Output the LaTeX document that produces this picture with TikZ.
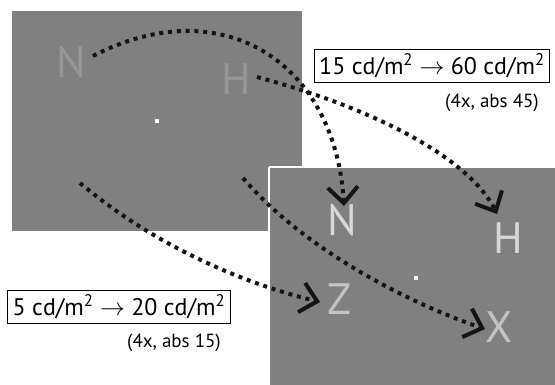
\documentclass[tikz,border=0pt]{standalone}
\usepackage{fontspec}
\setmainfont{PT Sans}
\usetikzlibrary{arrows.meta}
\definecolor{panel}{HTML}{808080}
\definecolor{dimletter}{HTML}{979797}
\definecolor{brightletter}{HTML}{D8D8D8}
\definecolor{midletter}{HTML}{C4C4C4}
\tikzset{
  dotarrow/.style={line width=4pt, color=black!92, dash pattern=on 4pt off 4.8pt,
    -{Straight Barb[length=16pt,width=30pt,line width=4pt]}},
  letter/.style={font=\fontsize{44}{44}\selectfont, inner sep=0pt},
  labelbox/.style={draw, line width=1.1pt, font=\fontsize{24}{26}\selectfont, inner xsep=5pt, inner ysep=4pt},
  note/.style={font=\fontsize{19}{21}\selectfont, inner sep=0pt},
  fix/.style={fill=white, minimum size=4pt, inner sep=0pt}
}
\newcommand{\sq}{\textsuperscript{2}}
\begin{document}
\begin{tikzpicture}[x=1pt,y=-1pt]
\useasboundingbox (0,0) rectangle (555,384);
\fill[white] (0,0) rectangle (555,384);
% first panel
\fill[panel] (12,11) rectangle (302,231);
\node[letter, text=dimletter] (n1) at (71,62) {N};
\node[letter, text=dimletter] (h1) at (236,79) {H};
\node[fix] (f1) at (157,121) {};
% second panel
\fill[panel] (270,168) rectangle (560,390);
\draw[white, line width=2pt] (269,167) -- (560,167);
\draw[white, line width=2pt] (269,167) -- (269,390);
\node[letter, text=brightletter] (n2) at (342,220) {N};
\node[letter, text=brightletter] (h2) at (508,238) {H};
\node[letter, text=midletter] (z2) at (339,299) {Z};
\node[letter, text=midletter] (x2) at (499,327) {X};
\node[fix] (f2) at (416,278) {};
% arrows
\coordinate (s1) at (93,56);
\coordinate (t1) at (344,206);
\coordinate (s2) at (257,77);
\coordinate (t2) at (497,214);
\coordinate (s3) at (80,183);
\coordinate (t3) at (320,302);
\coordinate (s4) at (243,178);
\coordinate (t4) at (485,329);
\draw[dotarrow] (s1) .. controls (220,-10) and (335,60) .. (t1);
\draw[dotarrow] (s2) .. controls (380,110) and (470,160) .. (t2);
\draw[dotarrow] (s3) .. controls (160,250) and (250,285) .. (t3);
\draw[dotarrow] (s4) .. controls (300,245) and (400,300) .. (t4);
% labels
\node[labelbox] (b1) at (432,66) {15 cd/m\sq{} $\rightarrow$ 60 cd/m\sq};
\node[note] (c1) at (492,103) {(4x, abs 45)};
\node[labelbox] (b2) at (119,307) {5 cd/m\sq{} $\rightarrow$ 20 cd/m\sq};
\node[note] (c2) at (174,343) {(4x, abs 15)};
\end{tikzpicture}
\end{document}
